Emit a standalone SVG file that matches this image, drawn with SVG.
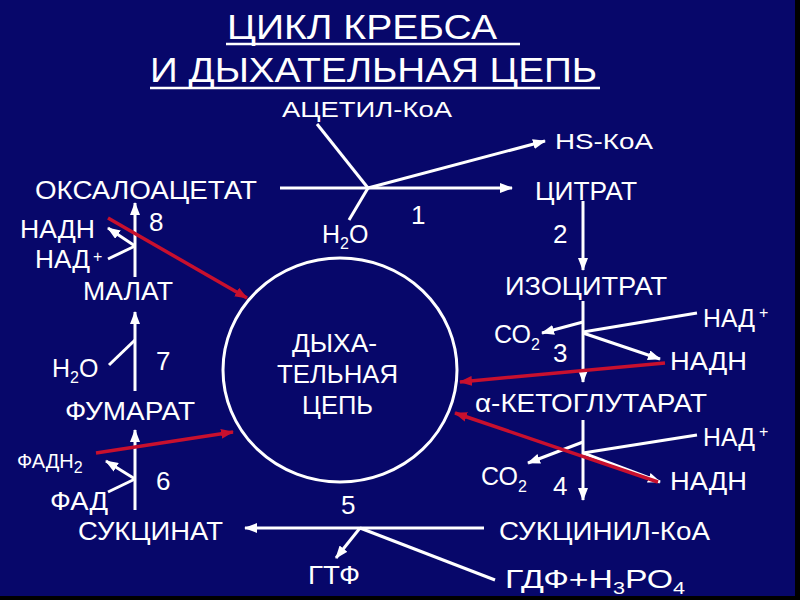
<svg xmlns="http://www.w3.org/2000/svg" width="800" height="600" viewBox="0 0 800 600">
<defs>
<marker id="aw" markerUnits="userSpaceOnUse" markerWidth="13" markerHeight="10" refX="12" refY="5" orient="auto"><path d="M0,0 L13,5 L0,10 z" fill="#fff"/></marker>
<marker id="ar" markerUnits="userSpaceOnUse" markerWidth="13" markerHeight="10" refX="12" refY="5" orient="auto"><path d="M0,0 L13,5 L0,10 z" fill="#c8102e"/></marker>
<style>
text{font-family:"Liberation Sans",Arial,sans-serif;fill:#fff}
.t{font-size:35px}
.l{font-size:25px}
.n{font-size:26px}
.s{font-size:22px}
.sub{font-size:16px}
.w{stroke:#fff;stroke-width:3;fill:none}
.wa{stroke:#fff;stroke-width:3;fill:none;marker-end:url(#aw)}
.r{stroke:#c8102e;stroke-width:3.5;fill:none;marker-end:url(#ar)}
</style>
</defs>
<rect width="800" height="600" fill="#000"/>
<rect width="795" height="596" fill="#07076a"/>

<g id="title">
<text class="t" x="227" y="39" textLength="270" lengthAdjust="spacingAndGlyphs">ЦИКЛ  КРЕБСА</text>
<line x1="226" y1="44" x2="520" y2="44" stroke="#fff" stroke-width="2.5"/>
<text class="t" x="150" y="82" textLength="447" lengthAdjust="spacingAndGlyphs">И  ДЫХАТЕЛЬНАЯ  ЦЕПЬ</text>
<line x1="150" y1="88" x2="600" y2="88" stroke="#fff" stroke-width="2.5"/>
</g>

<g id="connectors">
<line class="wa" x1="280" y1="188" x2="512" y2="188"/>
<line class="w" x1="317" y1="124" x2="368" y2="188"/>
<line class="w" x1="368" y1="188" x2="349" y2="220"/>
<line class="wa" x1="368" y1="188" x2="545" y2="141"/>
<line class="wa" x1="583" y1="201" x2="583" y2="270"/>
<line class="wa" x1="583" y1="301" x2="583" y2="382"/>
<line class="wa" x1="583" y1="322" x2="542" y2="333"/>
<line class="w" x1="697" y1="313" x2="583" y2="332"/>
<line class="wa" x1="583" y1="333" x2="660" y2="359"/>
<line class="wa" x1="583" y1="420" x2="583" y2="500"/>
<line class="wa" x1="583" y1="442" x2="528" y2="463"/>
<line class="w" x1="697" y1="435" x2="583" y2="453"/>
<line class="wa" x1="583" y1="453" x2="660" y2="482"/>
<line class="wa" x1="484" y1="528" x2="245" y2="528"/>
<line class="wa" x1="360" y1="528" x2="336" y2="558"/>
<line class="w" x1="360" y1="528" x2="495" y2="580"/>
<line class="wa" x1="135" y1="510" x2="135" y2="430"/>
<line class="w" x1="108" y1="492" x2="135" y2="479"/>
<line class="wa" x1="135" y1="479" x2="106" y2="461"/>
<line class="wa" x1="135" y1="391" x2="135" y2="312"/>
<line class="w" x1="109" y1="365" x2="135" y2="340"/>
<line class="wa" x1="135" y1="277" x2="135" y2="203"/>
<line class="w" x1="108" y1="259" x2="135" y2="246"/>
<line class="wa" x1="135" y1="246" x2="108" y2="228"/>
<line class="r" x1="108" y1="218" x2="247" y2="298"/>
<line class="r" x1="665" y1="363" x2="460" y2="382"/>
<line class="r" x1="658" y1="482" x2="455" y2="413"/>
<line class="r" x1="96" y1="453" x2="233" y2="432"/>
</g>

<g id="chain">
<ellipse cx="340" cy="370" rx="117" ry="112" fill="none" stroke="#fff" stroke-width="3"/>
<text class="l" x="292" y="352" textLength="85" lengthAdjust="spacingAndGlyphs">ДЫХА-</text>
<text class="l" x="277" y="383" textLength="121" lengthAdjust="spacingAndGlyphs">ТЕЛЬНАЯ</text>
<text class="l" x="302" y="414" textLength="71" lengthAdjust="spacingAndGlyphs">ЦЕПЬ</text>
</g>

<g id="acetyl"><text class="s" x="282" y="117" textLength="170" lengthAdjust="spacingAndGlyphs">АЦЕТИЛ-КоА</text></g>
<g id="hskoa"><text class="s" x="555" y="149" textLength="98" lengthAdjust="spacingAndGlyphs">HS-КоА</text></g>
<g id="oxaloacetate"><text class="l" x="35" y="199" textLength="222" lengthAdjust="spacingAndGlyphs">ОКСАЛОАЦЕТАТ</text></g>
<g id="citrate"><text class="l" x="535" y="200" textLength="102" lengthAdjust="spacingAndGlyphs">ЦИТРАТ</text></g>
<g id="h2o-1"><text class="l" x="322" y="243">H<tspan class="sub" dy="6">2</tspan><tspan dy="-6">O</tspan></text></g>
<g id="n1"><text class="n" x="411" y="224">1</text></g>
<g id="n2"><text class="n" x="553" y="243">2</text></g>
<g id="isocitrate"><text class="l" x="505" y="295" textLength="162" lengthAdjust="spacingAndGlyphs">ИЗОЦИТРАТ</text></g>
<g id="nad-3"><text class="l" x="703" y="327" textLength="52" lengthAdjust="spacingAndGlyphs">НАД</text><text class="sub" x="759" y="318">+</text></g>
<g id="co2-3"><text class="l" x="494" y="343">СО<tspan class="sub" dy="7">2</tspan></text></g>
<g id="n3"><text class="n" x="553" y="362">3</text></g>
<g id="nadh-3"><text class="l" x="670" y="370" textLength="77" lengthAdjust="spacingAndGlyphs">НАДН</text></g>
<g id="ketoglutarate"><text class="l" x="475" y="412" textLength="232" lengthAdjust="spacingAndGlyphs">α-КЕТОГЛУТАРАТ</text></g>
<g id="nad-4"><text class="l" x="703" y="446" textLength="52" lengthAdjust="spacingAndGlyphs">НАД</text><text class="sub" x="759" y="437">+</text></g>
<g id="co2-4"><text class="l" x="481" y="485">СО<tspan class="sub" dy="7">2</tspan></text></g>
<g id="n4"><text class="n" x="553" y="495">4</text></g>
<g id="nadh-4"><text class="l" x="670" y="490" textLength="77" lengthAdjust="spacingAndGlyphs">НАДН</text></g>
<g id="succinylcoa"><text class="l" x="499" y="540" textLength="211" lengthAdjust="spacingAndGlyphs">СУКЦИНИЛ-КоА</text></g>
<g id="n5"><text class="n" x="341" y="514">5</text></g>
<g id="gtp"><text class="l" x="308" y="584" textLength="52" lengthAdjust="spacingAndGlyphs">ГТФ</text></g>
<g id="gdp"><text class="l" x="505" y="588" textLength="180" lengthAdjust="spacingAndGlyphs">ГДФ+Н<tspan class="sub" dy="6">3</tspan><tspan dy="-6">РО</tspan><tspan class="sub" dy="6">4</tspan></text></g>
<g id="succinate"><text class="l" x="78" y="540" textLength="145" lengthAdjust="spacingAndGlyphs">СУКЦИНАТ</text></g>
<g id="fad"><text class="l" x="50" y="510" textLength="58" lengthAdjust="spacingAndGlyphs">ФАД</text></g>
<g id="fadh2"><text x="17" y="468" font-size="20">ФАДН<tspan class="sub" dy="5">2</tspan></text></g>
<g id="n6"><text class="n" x="156" y="490">6</text></g>
<g id="fumarate"><text class="l" x="65" y="420" textLength="130" lengthAdjust="spacingAndGlyphs">ФУМАРАТ</text></g>
<g id="h2o-7"><text class="l" x="52" y="377">H<tspan class="sub" dy="6">2</tspan><tspan dy="-6">O</tspan></text></g>
<g id="n7"><text class="n" x="156" y="370">7</text></g>
<g id="malate"><text class="l" x="83" y="300" textLength="90" lengthAdjust="spacingAndGlyphs">МАЛАТ</text></g>
<g id="nad-8"><text class="l" x="35" y="268" textLength="55" lengthAdjust="spacingAndGlyphs">НАД</text><text class="sub" x="93" y="262">+</text></g>
<g id="nadh-8"><text class="l" x="20" y="238" textLength="75" lengthAdjust="spacingAndGlyphs">НАДН</text></g>
<g id="n8"><text class="n" x="149" y="231">8</text></g>
</svg>
